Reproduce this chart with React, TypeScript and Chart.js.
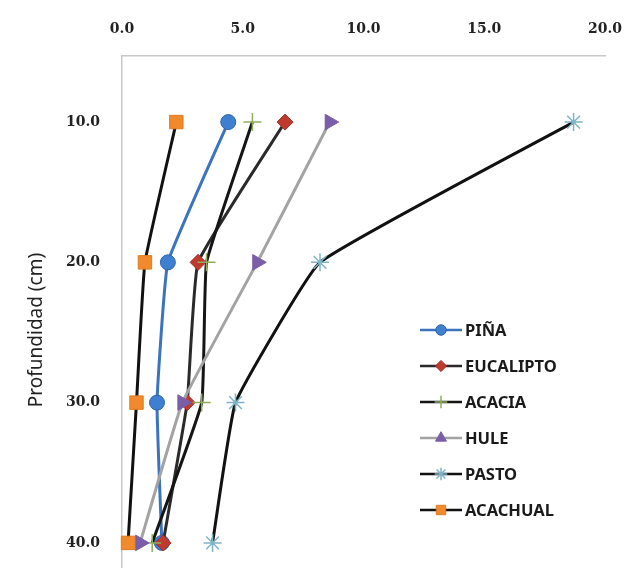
import React, { useEffect, useRef } from "react";
import { Chart, registerables } from "chart.js";
import { drawPoint } from "chart.js/helpers";

Chart.register(...registerables);

const depths = [10, 20, 30, 40];
const seriesNames = ["PIÑA", "EUCALIPTO", "ACACIA", "HULE", "PASTO", "ACACHUAL"];
const pina = [4.4, 1.9, 1.45, 1.65];
const eucalipto = [6.75, 3.15, 2.7, 1.7];
const acacia = [5.4, 3.5, 3.3, 1.25];
const hule = [8.6, 5.6, 2.5, 0.75];
const pasto = [18.7, 8.2, 4.7, 3.75];
const acachual = [2.25, 0.95, 0.6, 0.25];
const xTicks = [0, 5, 10, 15, 20];
const yTicks = [10, 20, 30, 40];
const yTitle = "Profundidad (cm)";

const styles = [
  { line: "#3b73bd", fill: "#3f7fd0", stroke: "#2f65ad", style: "circle", radius: 7.5, rot: 0, bw: 1 },
  { line: "#2a2a2a", fill: "#c0392f", stroke: "#a33028", style: "rectRot", radius: 8, rot: 0, bw: 1 },
  { line: "#151515", fill: "#8fae5a", stroke: "#8fae5a", style: "cross", radius: 9, rot: 0, bw: 1.5 },
  { line: "#a3a3a3", fill: "#7a5ea8", stroke: "#7a5ea8", style: "triangle", radius: 9, rot: 90, bw: 1 },
  { line: "#111111", fill: "#7fb3c8", stroke: "#7fb3c8", style: "star", radius: 9, rot: 0, bw: 1.5 },
  { line: "#111111", fill: "#f08a2c", stroke: "#e07b20", style: "rect", radius: 9.5, rot: 0, bw: 1 },
];

const values = [pina, eucalipto, acacia, hule, pasto, acachual];

const legendPlugin = {
  id: "customLegend",
  afterDraw(chart: any) {
    const ctx = chart.ctx;
    ctx.save();
    const x0 = 420;
    const x1 = 462;
    const yStart = 330;
    const step = 36;
    seriesNames.forEach((name, i) => {
      const s = styles[i];
      const y = yStart + i * step;
      ctx.strokeStyle = s.line;
      ctx.lineWidth = 2.5;
      ctx.beginPath();
      ctx.moveTo(x0, y);
      ctx.lineTo(x1, y);
      ctx.stroke();
      ctx.fillStyle = s.fill;
      ctx.strokeStyle = s.stroke;
      ctx.lineWidth = s.bw;
      drawPoint(ctx, { pointStyle: s.style, rotation: 0, radius: s.radius * 0.7, borderWidth: s.bw } as any, (x0 + x1) / 2, y);
      ctx.fillStyle = "#1a1a1a";
      ctx.font = "bold 16.5px 'Noto Sans'";
      ctx.textBaseline = "middle";
      ctx.textAlign = "left";
      ctx.fillText(name, 465, y + 1);
    });
    // y axis title
    ctx.translate(37, 330);
    ctx.rotate(-Math.PI / 2);
    ctx.fillStyle = "#222";
    ctx.font = "19px 'Noto Sans'";
    ctx.textAlign = "center";
    ctx.textBaseline = "middle";
    ctx.fillText(yTitle, 0, 0);
    ctx.restore();
  },
};

const tickFont = { family: "'DejaVu Serif'", size: 14, weight: "bold" as const };

export default function App() {
  const ref = useRef<HTMLCanvasElement | null>(null);
  useEffect(() => {
    document.body.style.margin = "0";
    if (!ref.current) return;
    const chart = new Chart(ref.current, {
      type: "line",
      data: {
        datasets: seriesNames.map((name, i) => ({
          label: name,
          data: depths.map((d, j) => ({ x: values[i][j], y: d })),
          order: seriesNames.length - 1 - i,
          borderColor: styles[i].line,
          borderWidth: 3,
          backgroundColor: styles[i].fill,
          pointBackgroundColor: styles[i].fill,
          pointBorderColor: styles[i].stroke,
          pointBorderWidth: styles[i].bw,
          pointStyle: styles[i].style as any,
          pointRadius: styles[i].radius,
          pointRotation: styles[i].rot,
          tension: 0.1,
          fill: false,
          clip: false as any,
        })),
      },
      options: {
        animation: false,
        responsive: false,
        devicePixelRatio: 1,
        layout: { autoPadding: false, padding: { left: 0, right: 24, top: 0, bottom: 0 } },
        plugins: { legend: { display: false }, tooltip: { enabled: false } },
        scales: {
          x: {
            type: "linear",
            position: "top",
            min: 0,
            max: 20,
            afterBuildTicks: (axis: any) => {
              axis.ticks = xTicks.map((v) => ({ value: v }));
            },
            afterFit: (axis: any) => {
              axis.height = 56;
              axis.paddingLeft = 0;
              axis.paddingRight = 0;
            },
            grid: {
              display: true,
              drawOnChartArea: false,
              drawTicks: true,
              tickLength: 18,
              color: "rgba(0,0,0,0)",
              tickColor: "rgba(0,0,0,0)",
            },
            border: { display: true, color: "#c8c8c8", width: 1.5 },
            ticks: {
              padding: 0,
              color: "#222",
              font: tickFont,
              maxRotation: 0,
              callback: (v: any) => Number(v).toFixed(1),
            },
          },
          y: {
            type: "linear",
            reverse: true,
            min: 5.29,
            max: 41.79,
            afterBuildTicks: (axis: any) => {
              axis.ticks = yTicks.map((v) => ({ value: v }));
            },
            afterFit: (axis: any) => {
              axis.width = 122;
              axis.paddingTop = 0;
              axis.paddingBottom = 0;
            },
            grid: {
              display: true,
              drawOnChartArea: false,
              drawTicks: true,
              tickLength: 22,
              color: "rgba(0,0,0,0)",
              tickColor: "rgba(0,0,0,0)",
            },
            border: { display: true, color: "#c8c8c8", width: 1.5 },
            title: { display: false },
            ticks: {
              padding: 0,
              color: "#222",
              font: tickFont,
              callback: (v: any) => Number(v).toFixed(1),
            },
          },
        },
      },
      plugins: [legendPlugin],
    });
    return () => chart.destroy();
  }, []);
  return (
    <div style={{ position: "absolute", left: 0, top: 0, width: 629, height: 568, background: "#fff" }}>
      <canvas ref={ref} width={629} height={568} style={{ width: 629, height: 568 }} />
    </div>
  );
}
